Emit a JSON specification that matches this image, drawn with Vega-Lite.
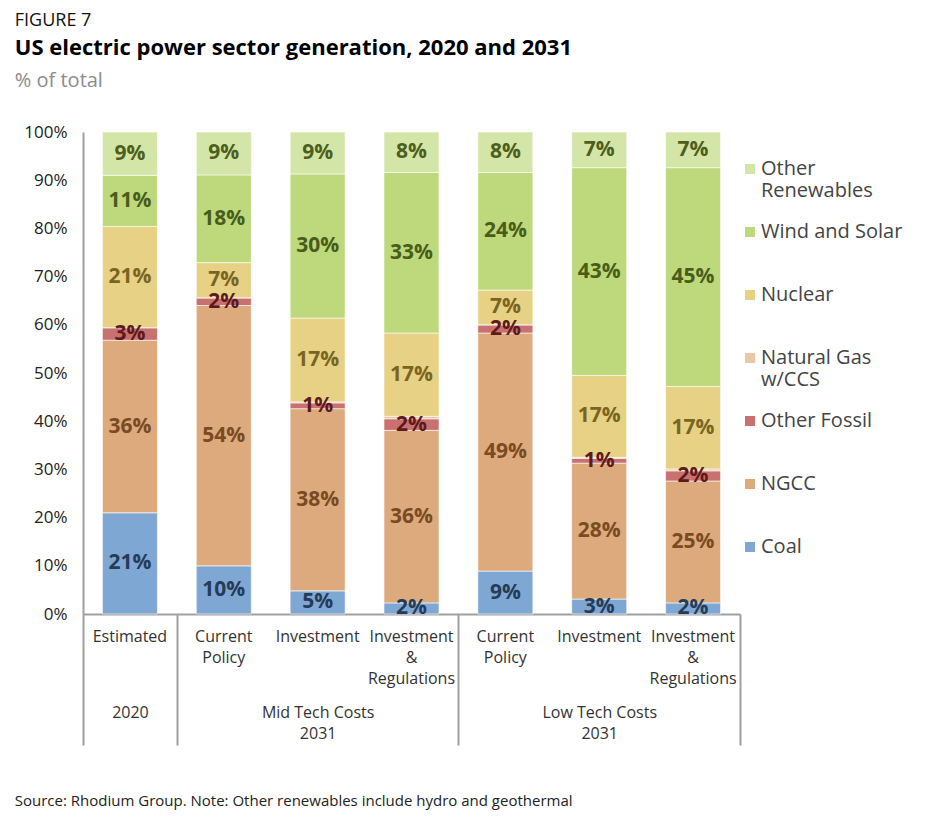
{
  "$schema": "https://vega.github.io/schema/vega-lite/v6.json",
  "background": "white",
  "padding": {"left": 14, "top": 12, "right": 5, "bottom": 5},
  "title": {"text": "FIGURE 7", "anchor": "start", "fontSize": 18, "fontWeight": "normal", "font": "Open Sans", "color": "#111111", "offset": 7},
  "config": {"view": {"stroke": null}, "font": "Open Sans", "concat": {"spacing": 0}},
  "vconcat": [
    {
      "title": {"text": "US electric power sector generation, 2020 and 2031", "subtitle": "% of total", "anchor": "start", "fontSize": 22, "fontWeight": "bold", "font": "Open Sans", "color": "#000000", "subtitleFont": "Open Sans", "subtitleFontSize": 20, "subtitleColor": "#8c8c8c", "subtitlePadding": 11, "offset": 31},
      "vconcat": [
        {
          "title": {"text": "Source: Rhodium Group. Note: Other renewables include hydro and geothermal", "orient": "bottom", "anchor": "start", "dx": -9, "fontSize": 15, "fontWeight": "normal", "font": "Open Sans", "color": "#222222", "offset": 48},
          "width": 657,
          "height": 482,
          "data": {"values": [
            {"bar": "A", "source": "Coal", "k": 1, "share": 0.210},
            {"bar": "A", "source": "NGCC", "k": 2, "share": 0.358},
            {"bar": "A", "source": "Other Fossil", "k": 3, "share": 0.026},
            {"bar": "A", "source": "Natural Gas w/CCS", "k": 4, "share": 0.0},
            {"bar": "A", "source": "Nuclear", "k": 5, "share": 0.210},
            {"bar": "A", "source": "Wind and Solar", "k": 6, "share": 0.106},
            {"bar": "A", "source": "Other Renewables", "k": 7, "share": 0.090},
            {"bar": "B", "source": "Coal", "k": 1, "share": 0.100},
            {"bar": "B", "source": "NGCC", "k": 2, "share": 0.540},
            {"bar": "B", "source": "Other Fossil", "k": 3, "share": 0.016},
            {"bar": "B", "source": "Natural Gas w/CCS", "k": 4, "share": 0.0},
            {"bar": "B", "source": "Nuclear", "k": 5, "share": 0.073},
            {"bar": "B", "source": "Wind and Solar", "k": 6, "share": 0.182},
            {"bar": "B", "source": "Other Renewables", "k": 7, "share": 0.089},
            {"bar": "C", "source": "Coal", "k": 1, "share": 0.048},
            {"bar": "C", "source": "NGCC", "k": 2, "share": 0.378},
            {"bar": "C", "source": "Other Fossil", "k": 3, "share": 0.012},
            {"bar": "C", "source": "Natural Gas w/CCS", "k": 4, "share": 0.002},
            {"bar": "C", "source": "Nuclear", "k": 5, "share": 0.174},
            {"bar": "C", "source": "Wind and Solar", "k": 6, "share": 0.299},
            {"bar": "C", "source": "Other Renewables", "k": 7, "share": 0.087},
            {"bar": "D", "source": "Coal", "k": 1, "share": 0.023},
            {"bar": "D", "source": "NGCC", "k": 2, "share": 0.358},
            {"bar": "D", "source": "Other Fossil", "k": 3, "share": 0.024},
            {"bar": "D", "source": "Natural Gas w/CCS", "k": 4, "share": 0.005},
            {"bar": "D", "source": "Nuclear", "k": 5, "share": 0.173},
            {"bar": "D", "source": "Wind and Solar", "k": 6, "share": 0.333},
            {"bar": "D", "source": "Other Renewables", "k": 7, "share": 0.084},
            {"bar": "E", "source": "Coal", "k": 1, "share": 0.089},
            {"bar": "E", "source": "NGCC", "k": 2, "share": 0.494},
            {"bar": "E", "source": "Other Fossil", "k": 3, "share": 0.017},
            {"bar": "E", "source": "Natural Gas w/CCS", "k": 4, "share": 0.0},
            {"bar": "E", "source": "Nuclear", "k": 5, "share": 0.072},
            {"bar": "E", "source": "Wind and Solar", "k": 6, "share": 0.244},
            {"bar": "E", "source": "Other Renewables", "k": 7, "share": 0.084},
            {"bar": "F", "source": "Coal", "k": 1, "share": 0.031},
            {"bar": "F", "source": "NGCC", "k": 2, "share": 0.282},
            {"bar": "F", "source": "Other Fossil", "k": 3, "share": 0.010},
            {"bar": "F", "source": "Natural Gas w/CCS", "k": 4, "share": 0.002},
            {"bar": "F", "source": "Nuclear", "k": 5, "share": 0.170},
            {"bar": "F", "source": "Wind and Solar", "k": 6, "share": 0.431},
            {"bar": "F", "source": "Other Renewables", "k": 7, "share": 0.074},
            {"bar": "G", "source": "Coal", "k": 1, "share": 0.023},
            {"bar": "G", "source": "NGCC", "k": 2, "share": 0.253},
            {"bar": "G", "source": "Other Fossil", "k": 3, "share": 0.021},
            {"bar": "G", "source": "Natural Gas w/CCS", "k": 4, "share": 0.004},
            {"bar": "G", "source": "Nuclear", "k": 5, "share": 0.171},
            {"bar": "G", "source": "Wind and Solar", "k": 6, "share": 0.454},
            {"bar": "G", "source": "Other Renewables", "k": 7, "share": 0.074}
          ]},
          "resolve": {"axis": {"x": "independent"}},
          "layer": [
            {
              "mark": {"type": "bar", "width": {"band": 0.586}, "stroke": "#ffffff", "strokeWidth": 1, "strokeOpacity": 0.6},
              "encoding": {
                "x": {"field": "bar", "type": "nominal", "sort": null,
                  "scale": {"paddingInner": 0, "paddingOuter": 0},
                  "axis": {"orient": "bottom", "title": null, "labelAngle": 0, "ticks": false, "domain": true, "domainColor": "#a0a0a0", "domainWidth": 2,
                    "labelFont": "Open Sans", "labelFontSize": 16, "labelColor": "#333333", "labelPadding": 14, "labelLineHeight": 21,
                    "labelExpr": "datum.value == 'A' ? ['Estimated'] : (datum.value == 'B' || datum.value == 'E') ? ['Current', 'Policy'] : (datum.value == 'C' || datum.value == 'F') ? ['Investment'] : ['Investment', '&', 'Regulations']"}},
                "y": {"field": "share", "type": "quantitative", "stack": "zero",
                  "scale": {"domain": [0, 1], "nice": false},
                  "axis": {"title": null, "values": [0, 0.1, 0.2, 0.3, 0.4, 0.5, 0.6, 0.7, 0.8, 0.9, 1], "format": ".0%", "grid": false, "ticks": false, "domain": true, "domainColor": "#a0a0a0", "domainWidth": 2, "labelFont": "Open Sans", "labelFontSize": 17, "labelColor": "#222222", "labelPadding": 16}},
                "color": {"field": "source", "type": "nominal",
                  "scale": {"domain": ["Other Renewables", "Wind and Solar", "Nuclear", "Natural Gas w/CCS", "Other Fossil", "NGCC", "Coal"],
                    "range": ["#d4e5a8", "#bdd97c", "#e6d184", "#eac8a6", "#c97070", "#dcaa7c", "#7fa7d3"]},
                  "legend": {"title": " ", "titleFontSize": 12, "titlePadding": 15, "orient": "right", "offset": -1, "symbolType": "square", "symbolSize": 100, "symbolStrokeWidth": 0,
                    "labelFont": "Open Sans", "labelFontSize": 20, "labelColor": "#444444", "labelOffset": 1, "gridAlign": "all", "rowPadding": 21, "labelLimit": 200,
                    "labelExpr": "datum.label == 'Other Renewables' ? ['Other', 'Renewables'] : datum.label == 'Natural Gas w/CCS' ? ['Natural Gas', 'w/CCS'] : datum.label"}},
                "order": {"field": "k", "type": "quantitative", "sort": "ascending"}
              }
            },
            {
              "transform": [
                {"stack": "share", "groupby": ["bar"], "sort": [{"field": "k", "order": "ascending"}], "as": ["y0", "y1"]},
                {"filter": "datum.source != 'Natural Gas w/CCS'"},
                {"fold": ["y0", "y1"], "as": ["edge", "pos"]},
                {"aggregate": [{"op": "mean", "field": "pos", "as": "mid"}], "groupby": ["bar", "source", "share"]}
              ],
              "mark": {"type": "text", "font": "Open Sans", "fontSize": 21, "fontWeight": "bold", "baseline": "middle", "align": "center"},
              "encoding": {
                "x": {"field": "bar", "type": "nominal", "sort": null,
                  "axis": {"orient": "bottom", "title": null, "labelAngle": 0, "domain": false, "ticks": true, "tickBand": "extent", "tickSize": 131, "tickColor": "#a0a0a0", "tickWidth": 2,
                    "tickOpacity": {"condition": {"test": "datum.value == 'A' || datum.value == 'D' || datum.value == 'G' || !isDefined(datum.value)", "value": 1}, "value": 0},
                    "labelFont": "Open Sans", "labelFontSize": 16, "labelColor": "#333333", "labelPadding": -41, "labelLineHeight": 21,
                    "labelExpr": "datum.value == 'A' ? '2020' : datum.value == 'C' ? ['Mid Tech Costs', '2031'] : datum.value == 'F' ? ['Low Tech Costs', '2031'] : ''"}},
                "y": {"field": "mid", "type": "quantitative",
                  "axis": {"title": null, "values": [0, 0.1, 0.2, 0.3, 0.4, 0.5, 0.6, 0.7, 0.8, 0.9, 1], "format": ".0%", "grid": false, "ticks": false, "domain": true, "domainColor": "#a0a0a0", "domainWidth": 2, "labelFont": "Open Sans", "labelFontSize": 17, "labelColor": "#222222", "labelPadding": 16}},
                "text": {"field": "share", "type": "quantitative", "format": ".0%"},
                "fill": {"field": "source", "type": "nominal",
                  "scale": {"domain": ["Other Renewables", "Wind and Solar", "Nuclear", "Other Fossil", "NGCC", "Coal"],
                    "range": ["#4e5e1c", "#4a5c1a", "#7a6422", "#5e1a1a", "#7a4a22", "#263b58"]},
                  "legend": null}
              }
            }
          ]
        }
      ]
    }
  ]
}
